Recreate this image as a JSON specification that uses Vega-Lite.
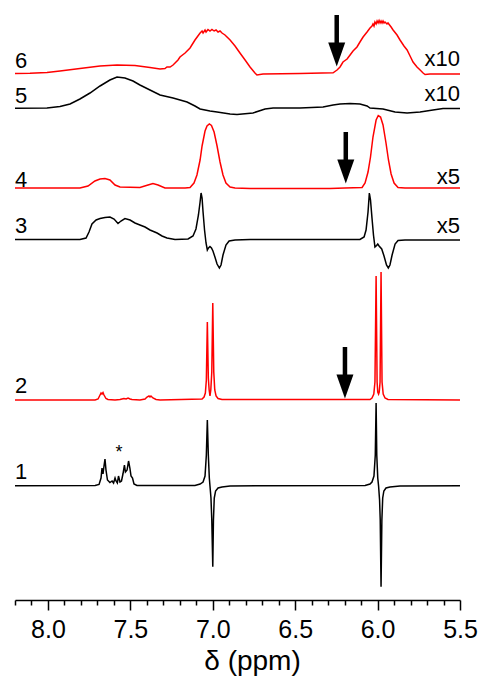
{
"$schema": "https://vega.github.io/schema/vega-lite/v6.json",
"width": 445, "height": 600,
"autosize": {"type": "none"},
"padding": {"left": 15, "right": 20, "top": 0, "bottom": 85},
"background": "white",
"config": {"view": {"stroke": null}},
"datasets": {
"spectra": [
{"t":"6","ppm":8.200,"y":526.5},{"t":"6","ppm":8.109,"y":526.7},{"t":"6","ppm":8.006,"y":527.5},{"t":"6","ppm":7.927,"y":529},{"t":"6","ppm":7.806,"y":531.5},{"t":"6","ppm":7.684,"y":534},{"t":"6","ppm":7.581,"y":535},{"t":"6","ppm":7.472,"y":534.5},{"t":"6","ppm":7.381,"y":532.5},{"t":"6","ppm":7.320,"y":531},{"t":"6","ppm":7.290,"y":531.5},{"t":"6","ppm":7.278,"y":533},{"t":"6","ppm":7.259,"y":533},{"t":"6","ppm":7.241,"y":535},{"t":"6","ppm":7.211,"y":540},{"t":"6","ppm":7.199,"y":543},{"t":"6","ppm":7.168,"y":547},{"t":"6","ppm":7.138,"y":552},{"t":"6","ppm":7.108,"y":560},{"t":"6","ppm":7.077,"y":567},{"t":"6","ppm":7.065,"y":569},{"t":"6","ppm":7.059,"y":567},{"t":"6","ppm":7.047,"y":570},{"t":"6","ppm":7.041,"y":568},{"t":"6","ppm":7.029,"y":570.5},{"t":"6","ppm":7.017,"y":569},{"t":"6","ppm":7.005,"y":570.5},{"t":"6","ppm":6.992,"y":569},{"t":"6","ppm":6.980,"y":570},{"t":"6","ppm":6.968,"y":568},{"t":"6","ppm":6.956,"y":569},{"t":"6","ppm":6.944,"y":567},{"t":"6","ppm":6.926,"y":565},{"t":"6","ppm":6.895,"y":560},{"t":"6","ppm":6.865,"y":554},{"t":"6","ppm":6.835,"y":547},{"t":"6","ppm":6.804,"y":540},{"t":"6","ppm":6.774,"y":533},{"t":"6","ppm":6.744,"y":527},{"t":"6","ppm":6.732,"y":525},{"t":"6","ppm":6.695,"y":526},{"t":"6","ppm":6.471,"y":526.5},{"t":"6","ppm":6.270,"y":527.2},{"t":"6","ppm":6.246,"y":530},{"t":"6","ppm":6.228,"y":533},{"t":"6","ppm":6.210,"y":538},{"t":"6","ppm":6.185,"y":541},{"t":"6","ppm":6.167,"y":545},{"t":"6","ppm":6.149,"y":549},{"t":"6","ppm":6.125,"y":553},{"t":"6","ppm":6.107,"y":558},{"t":"6","ppm":6.088,"y":563},{"t":"6","ppm":6.064,"y":568},{"t":"6","ppm":6.046,"y":572},{"t":"6","ppm":6.034,"y":574},{"t":"6","ppm":6.028,"y":576},{"t":"6","ppm":6.022,"y":574},{"t":"6","ppm":6.016,"y":578},{"t":"6","ppm":6.009,"y":576},{"t":"6","ppm":6.003,"y":579},{"t":"6","ppm":5.997,"y":577},{"t":"6","ppm":5.991,"y":579.5},{"t":"6","ppm":5.985,"y":577},{"t":"6","ppm":5.979,"y":579},{"t":"6","ppm":5.973,"y":577},{"t":"6","ppm":5.967,"y":579},{"t":"6","ppm":5.961,"y":577},{"t":"6","ppm":5.955,"y":578},{"t":"6","ppm":5.943,"y":576},{"t":"6","ppm":5.937,"y":577},{"t":"6","ppm":5.918,"y":573},{"t":"6","ppm":5.906,"y":570},{"t":"6","ppm":5.882,"y":565},{"t":"6","ppm":5.864,"y":560},{"t":"6","ppm":5.840,"y":554},{"t":"6","ppm":5.821,"y":550},{"t":"6","ppm":5.803,"y":544},{"t":"6","ppm":5.785,"y":538},{"t":"6","ppm":5.761,"y":533},{"t":"6","ppm":5.742,"y":530},{"t":"6","ppm":5.724,"y":527},{"t":"6","ppm":5.712,"y":525.5},{"t":"6","ppm":5.682,"y":526},{"t":"6","ppm":5.500,"y":526},
{"t":"5","ppm":8.200,"y":491.7},{"t":"5","ppm":8.006,"y":492},{"t":"5","ppm":7.927,"y":493.5},{"t":"5","ppm":7.866,"y":496},{"t":"5","ppm":7.806,"y":501},{"t":"5","ppm":7.745,"y":507},{"t":"5","ppm":7.684,"y":514},{"t":"5","ppm":7.624,"y":520},{"t":"5","ppm":7.581,"y":523},{"t":"5","ppm":7.533,"y":522},{"t":"5","ppm":7.484,"y":519},{"t":"5","ppm":7.442,"y":515},{"t":"5","ppm":7.381,"y":510},{"t":"5","ppm":7.320,"y":505},{"t":"5","ppm":7.241,"y":502},{"t":"5","ppm":7.156,"y":498},{"t":"5","ppm":7.108,"y":494},{"t":"5","ppm":7.077,"y":491},{"t":"5","ppm":7.017,"y":489},{"t":"5","ppm":6.974,"y":488},{"t":"5","ppm":6.895,"y":486},{"t":"5","ppm":6.853,"y":485.5},{"t":"5","ppm":6.756,"y":487},{"t":"5","ppm":6.683,"y":491},{"t":"5","ppm":6.634,"y":492},{"t":"5","ppm":6.471,"y":492},{"t":"5","ppm":6.331,"y":493},{"t":"5","ppm":6.270,"y":495},{"t":"5","ppm":6.228,"y":496},{"t":"5","ppm":6.167,"y":496.5},{"t":"5","ppm":6.107,"y":496},{"t":"5","ppm":6.064,"y":494},{"t":"5","ppm":6.046,"y":492},{"t":"5","ppm":5.967,"y":491},{"t":"5","ppm":5.894,"y":488},{"t":"5","ppm":5.821,"y":487},{"t":"5","ppm":5.742,"y":488},{"t":"5","ppm":5.664,"y":490},{"t":"5","ppm":5.603,"y":491.5},{"t":"5","ppm":5.500,"y":491.5},
{"t":"4","ppm":8.200,"y":412},{"t":"4","ppm":7.806,"y":412},{"t":"4","ppm":7.757,"y":414},{"t":"4","ppm":7.715,"y":419},{"t":"4","ppm":7.684,"y":421},{"t":"4","ppm":7.654,"y":421.5},{"t":"4","ppm":7.624,"y":420},{"t":"4","ppm":7.593,"y":415},{"t":"4","ppm":7.563,"y":413},{"t":"4","ppm":7.442,"y":412.5},{"t":"4","ppm":7.393,"y":415},{"t":"4","ppm":7.363,"y":416.5},{"t":"4","ppm":7.332,"y":415},{"t":"4","ppm":7.290,"y":412},{"t":"4","ppm":7.168,"y":412},{"t":"4","ppm":7.138,"y":412.5},{"t":"4","ppm":7.114,"y":417},{"t":"4","ppm":7.096,"y":425},{"t":"4","ppm":7.077,"y":440},{"t":"4","ppm":7.065,"y":454},{"t":"4","ppm":7.047,"y":469},{"t":"4","ppm":7.035,"y":474},{"t":"4","ppm":7.021,"y":476},{"t":"4","ppm":7.008,"y":474.5},{"t":"4","ppm":6.992,"y":468},{"t":"4","ppm":6.974,"y":454},{"t":"4","ppm":6.956,"y":438},{"t":"4","ppm":6.938,"y":425},{"t":"4","ppm":6.920,"y":417},{"t":"4","ppm":6.895,"y":413},{"t":"4","ppm":6.865,"y":412},{"t":"4","ppm":6.774,"y":411.5},{"t":"4","ppm":6.289,"y":411.5},{"t":"4","ppm":6.198,"y":412},{"t":"4","ppm":6.094,"y":412.5},{"t":"4","ppm":6.076,"y":417},{"t":"4","ppm":6.058,"y":428},{"t":"4","ppm":6.043,"y":443},{"t":"4","ppm":6.028,"y":463},{"t":"4","ppm":6.009,"y":480},{"t":"4","ppm":5.996,"y":484.5},{"t":"4","ppm":5.982,"y":483},{"t":"4","ppm":5.967,"y":475},{"t":"4","ppm":5.949,"y":457},{"t":"4","ppm":5.934,"y":440},{"t":"4","ppm":5.918,"y":426},{"t":"4","ppm":5.900,"y":417},{"t":"4","ppm":5.876,"y":412.5},{"t":"4","ppm":5.834,"y":412},{"t":"4","ppm":5.742,"y":412},{"t":"4","ppm":5.500,"y":412},
{"t":"3","ppm":8.200,"y":360.5},{"t":"3","ppm":7.806,"y":360.5},{"t":"3","ppm":7.769,"y":362},{"t":"3","ppm":7.751,"y":368},{"t":"3","ppm":7.733,"y":376},{"t":"3","ppm":7.708,"y":380},{"t":"3","ppm":7.684,"y":381.5},{"t":"3","ppm":7.654,"y":382.5},{"t":"3","ppm":7.624,"y":383},{"t":"3","ppm":7.599,"y":381},{"t":"3","ppm":7.575,"y":376.5},{"t":"3","ppm":7.557,"y":379},{"t":"3","ppm":7.533,"y":381.5},{"t":"3","ppm":7.502,"y":380},{"t":"3","ppm":7.472,"y":377},{"t":"3","ppm":7.442,"y":375},{"t":"3","ppm":7.411,"y":373},{"t":"3","ppm":7.381,"y":370},{"t":"3","ppm":7.338,"y":367},{"t":"3","ppm":7.308,"y":364},{"t":"3","ppm":7.278,"y":362},{"t":"3","ppm":7.229,"y":360.5},{"t":"3","ppm":7.150,"y":361},{"t":"3","ppm":7.120,"y":364},{"t":"3","ppm":7.102,"y":371},{"t":"3","ppm":7.087,"y":385},{"t":"3","ppm":7.077,"y":398},{"t":"3","ppm":7.071,"y":407},{"t":"3","ppm":7.065,"y":402},{"t":"3","ppm":7.059,"y":388},{"t":"3","ppm":7.050,"y":370},{"t":"3","ppm":7.041,"y":357},{"t":"3","ppm":7.033,"y":350},{"t":"3","ppm":7.026,"y":352},{"t":"3","ppm":7.017,"y":353.5},{"t":"3","ppm":7.008,"y":352},{"t":"3","ppm":6.999,"y":349},{"t":"3","ppm":6.987,"y":343},{"t":"3","ppm":6.974,"y":336},{"t":"3","ppm":6.960,"y":332},{"t":"3","ppm":6.950,"y":335},{"t":"3","ppm":6.938,"y":345},{"t":"3","ppm":6.920,"y":355},{"t":"3","ppm":6.901,"y":359},{"t":"3","ppm":6.865,"y":360},{"t":"3","ppm":6.774,"y":360.5},{"t":"3","ppm":6.107,"y":360.5},{"t":"3","ppm":6.082,"y":363},{"t":"3","ppm":6.070,"y":370},{"t":"3","ppm":6.058,"y":388},{"t":"3","ppm":6.050,"y":407},{"t":"3","ppm":6.043,"y":400},{"t":"3","ppm":6.034,"y":382},{"t":"3","ppm":6.025,"y":365},{"t":"3","ppm":6.016,"y":353},{"t":"3","ppm":6.006,"y":354.5},{"t":"3","ppm":5.999,"y":356},{"t":"3","ppm":5.991,"y":354},{"t":"3","ppm":5.975,"y":351},{"t":"3","ppm":5.961,"y":344},{"t":"3","ppm":5.946,"y":335},{"t":"3","ppm":5.935,"y":332},{"t":"3","ppm":5.925,"y":335},{"t":"3","ppm":5.912,"y":345},{"t":"3","ppm":5.894,"y":356},{"t":"3","ppm":5.876,"y":359.5},{"t":"3","ppm":5.834,"y":360},{"t":"3","ppm":5.500,"y":360},
{"t":"2","ppm":8.200,"y":200},{"t":"2","ppm":7.714,"y":200},{"t":"2","ppm":7.696,"y":201},{"t":"2","ppm":7.684,"y":205},{"t":"2","ppm":7.678,"y":207},{"t":"2","ppm":7.672,"y":206},{"t":"2","ppm":7.666,"y":207.5},{"t":"2","ppm":7.660,"y":205},{"t":"2","ppm":7.648,"y":201.5},{"t":"2","ppm":7.636,"y":200.5},{"t":"2","ppm":7.593,"y":200},{"t":"2","ppm":7.563,"y":200.5},{"t":"2","ppm":7.539,"y":201.5},{"t":"2","ppm":7.526,"y":201},{"t":"2","ppm":7.514,"y":202},{"t":"2","ppm":7.502,"y":201},{"t":"2","ppm":7.490,"y":200.5},{"t":"2","ppm":7.442,"y":200},{"t":"2","ppm":7.411,"y":201},{"t":"2","ppm":7.399,"y":203},{"t":"2","ppm":7.387,"y":204},{"t":"2","ppm":7.381,"y":203},{"t":"2","ppm":7.375,"y":204},{"t":"2","ppm":7.363,"y":202},{"t":"2","ppm":7.344,"y":200.5},{"t":"2","ppm":7.320,"y":200},{"t":"2","ppm":7.065,"y":201},{"t":"2","ppm":7.053,"y":203},{"t":"2","ppm":7.045,"y":207},{"t":"2","ppm":7.039,"y":220},{"t":"2","ppm":7.033,"y":278},{"t":"2","ppm":7.027,"y":222},{"t":"2","ppm":7.022,"y":210},{"t":"2","ppm":7.017,"y":204},{"t":"2","ppm":7.012,"y":210},{"t":"2","ppm":7.006,"y":228},{"t":"2","ppm":7.000,"y":297},{"t":"2","ppm":6.994,"y":228},{"t":"2","ppm":6.988,"y":210},{"t":"2","ppm":6.980,"y":204},{"t":"2","ppm":6.968,"y":201.5},{"t":"2","ppm":6.944,"y":200.5},{"t":"2","ppm":6.046,"y":200.5},{"t":"2","ppm":6.034,"y":202},{"t":"2","ppm":6.023,"y":206},{"t":"2","ppm":6.016,"y":218},{"t":"2","ppm":6.009,"y":324},{"t":"2","ppm":6.003,"y":218},{"t":"2","ppm":5.999,"y":208},{"t":"2","ppm":5.994,"y":206},{"t":"2","ppm":5.990,"y":208},{"t":"2","ppm":5.985,"y":218},{"t":"2","ppm":5.979,"y":328},{"t":"2","ppm":5.973,"y":218},{"t":"2","ppm":5.966,"y":206},{"t":"2","ppm":5.955,"y":202},{"t":"2","ppm":5.937,"y":200.5},{"t":"2","ppm":5.500,"y":200},
{"t":"1","ppm":8.200,"y":114.3},{"t":"1","ppm":7.714,"y":114.5},{"t":"1","ppm":7.690,"y":115.5},{"t":"1","ppm":7.678,"y":122},{"t":"1","ppm":7.672,"y":132},{"t":"1","ppm":7.666,"y":126},{"t":"1","ppm":7.660,"y":134},{"t":"1","ppm":7.654,"y":141},{"t":"1","ppm":7.648,"y":130},{"t":"1","ppm":7.639,"y":120},{"t":"1","ppm":7.624,"y":117.5},{"t":"1","ppm":7.611,"y":119},{"t":"1","ppm":7.602,"y":117},{"t":"1","ppm":7.593,"y":122},{"t":"1","ppm":7.587,"y":119},{"t":"1","ppm":7.579,"y":117},{"t":"1","ppm":7.572,"y":124},{"t":"1","ppm":7.563,"y":118},{"t":"1","ppm":7.554,"y":119},{"t":"1","ppm":7.545,"y":126},{"t":"1","ppm":7.536,"y":135},{"t":"1","ppm":7.530,"y":128},{"t":"1","ppm":7.520,"y":130},{"t":"1","ppm":7.511,"y":139},{"t":"1","ppm":7.503,"y":132},{"t":"1","ppm":7.496,"y":124},{"t":"1","ppm":7.487,"y":122},{"t":"1","ppm":7.478,"y":116},{"t":"1","ppm":7.460,"y":114.5},{"t":"1","ppm":7.108,"y":114.5},{"t":"1","ppm":7.077,"y":116},{"t":"1","ppm":7.059,"y":118},{"t":"1","ppm":7.047,"y":124},{"t":"1","ppm":7.039,"y":145},{"t":"1","ppm":7.033,"y":180},{"t":"1","ppm":7.027,"y":145},{"t":"1","ppm":7.021,"y":122},{"t":"1","ppm":7.017,"y":114},{"t":"1","ppm":7.011,"y":102},{"t":"1","ppm":7.006,"y":80},{"t":"1","ppm":7.000,"y":33.3},{"t":"1","ppm":6.996,"y":80},{"t":"1","ppm":6.991,"y":102},{"t":"1","ppm":6.983,"y":109},{"t":"1","ppm":6.968,"y":112},{"t":"1","ppm":6.944,"y":113},{"t":"1","ppm":6.895,"y":114},{"t":"1","ppm":6.713,"y":114.3},{"t":"1","ppm":6.076,"y":114.5},{"t":"1","ppm":6.046,"y":116},{"t":"1","ppm":6.034,"y":118},{"t":"1","ppm":6.022,"y":124},{"t":"1","ppm":6.014,"y":145},{"t":"1","ppm":6.009,"y":197},{"t":"1","ppm":6.005,"y":145},{"t":"1","ppm":5.999,"y":122},{"t":"1","ppm":5.994,"y":114},{"t":"1","ppm":5.988,"y":100},{"t":"1","ppm":5.984,"y":80},{"t":"1","ppm":5.979,"y":13.3},{"t":"1","ppm":5.974,"y":80},{"t":"1","ppm":5.969,"y":102},{"t":"1","ppm":5.962,"y":109},{"t":"1","ppm":5.949,"y":112},{"t":"1","ppm":5.925,"y":113},{"t":"1","ppm":5.864,"y":114},{"t":"1","ppm":5.500,"y":114.3}
],
"labels": [
{"text":"6","ppm":8.2,"y":532,"side":"L"},{"text":"5","ppm":8.2,"y":497,"side":"L"},{"text":"4","ppm":8.2,"y":413,"side":"L"},{"text":"3","ppm":8.2,"y":367,"side":"L"},{"text":"2","ppm":8.2,"y":207,"side":"L"},{"text":"1","ppm":8.2,"y":121,"side":"L"},
{"text":"x10","ppm":5.5,"y":534,"side":"R"},{"text":"x10","ppm":5.5,"y":499,"side":"R"},{"text":"x5","ppm":5.5,"y":416,"side":"R"},{"text":"x5","ppm":5.5,"y":367,"side":"R"}
],
"star": [{"text":"*","ppm":7.569,"y":142}],
"arrows": [
{"ppm":6.248,"top":585,"bot":553,"head":545.5},
{"ppm":6.193,"top":468,"bot":435,"head":428.5},
{"ppm":6.198,"top":253,"bot":220,"head":213.5}
]
},
"layer": [
{
"data": {"name": "spectra"},
"mark": {"type": "line", "strokeWidth": 1.5, "clip": false},
"encoding": {
"x": {"field": "ppm", "type": "quantitative",
"scale": {"domain": [8.2, 5.5], "nice": false, "zero": false},
"axis": {
"values": [8.2,8.1,8.0,7.9,7.8,7.7,7.6,7.5,7.4,7.3,7.2,7.1,7.0,6.9,6.8,6.7,6.6,6.5,6.4,6.3,6.2,6.1,6.0,5.9,5.8,5.7,5.6,5.5],
"tickCount": 100,
"labelExpr": "abs(datum.value*2 - round(datum.value*2)) < 0.001 ? format(datum.value, '.1f') : ''",
"tickSize": {"condition": {"test": "abs(datum.value*2 - round(datum.value*2)) < 0.001", "value": 10}, "value": 5},
"tickColor": "black", "tickWidth": 1.5,
"domainColor": "black", "domainWidth": 1.5,
"labelFont": "Liberation Sans", "labelFontSize": 25, "labelColor": "black", "labelPadding": 7,
"labelFlush": false, "labelOverlap": false, "grid": false,
"title": "δ (ppm)", "titleFont": "Liberation Sans", "titleFontSize": 28, "titleFontWeight": "normal", "titleColor": "black", "titlePadding": 5, "titleX": 237, "titleAlign": "center"
}},
"y": {"field": "y", "type": "quantitative", "scale": {"domain": [0, 600], "nice": false, "zero": false}, "axis": null},
"color": {"field": "t", "type": "nominal", "scale": {"domain": ["1","2","3","4","5","6"], "range": ["#000000","#ff0000","#000000","#ff0000","#000000","#ff0000"]}, "legend": null}
}
},
{
"data": {"name": "arrows"},
"mark": {"type": "rule", "strokeWidth": 4.5, "color": "black"},
"encoding": {
"x": {"field": "ppm", "type": "quantitative"},
"y": {"field": "top", "type": "quantitative"},
"y2": {"field": "bot"}
}
},
{
"data": {"name": "arrows"},
"mark": {"type": "point", "shape": "M-1,-1.4L1,-1.4L0,1.4Z", "size": 289, "filled": true, "color": "black", "opacity": 1, "strokeWidth": 0},
"encoding": {
"x": {"field": "ppm", "type": "quantitative"},
"y": {"field": "head", "type": "quantitative"}
}
},
{
"data": {"name": "labels"},
"transform": [{"filter": "datum.side == 'L'"}],
"mark": {"type": "text", "align": "left", "baseline": "alphabetic", "font": "Liberation Sans", "fontSize": 22, "color": "black"},
"encoding": {
"x": {"field": "ppm", "type": "quantitative"},
"y": {"field": "y", "type": "quantitative"},
"text": {"field": "text"}
}
},
{
"data": {"name": "labels"},
"transform": [{"filter": "datum.side == 'R'"}],
"mark": {"type": "text", "align": "right", "baseline": "alphabetic", "font": "Liberation Sans", "fontSize": 22, "color": "black"},
"encoding": {
"x": {"field": "ppm", "type": "quantitative"},
"y": {"field": "y", "type": "quantitative"},
"text": {"field": "text"}
}
},
{
"data": {"name": "star"},
"mark": {"type": "text", "align": "center", "baseline": "alphabetic", "font": "Liberation Sans", "fontSize": 18, "color": "black"},
"encoding": {
"x": {"field": "ppm", "type": "quantitative"},
"y": {"field": "y", "type": "quantitative"},
"text": {"field": "text"}
}
}
]
}
